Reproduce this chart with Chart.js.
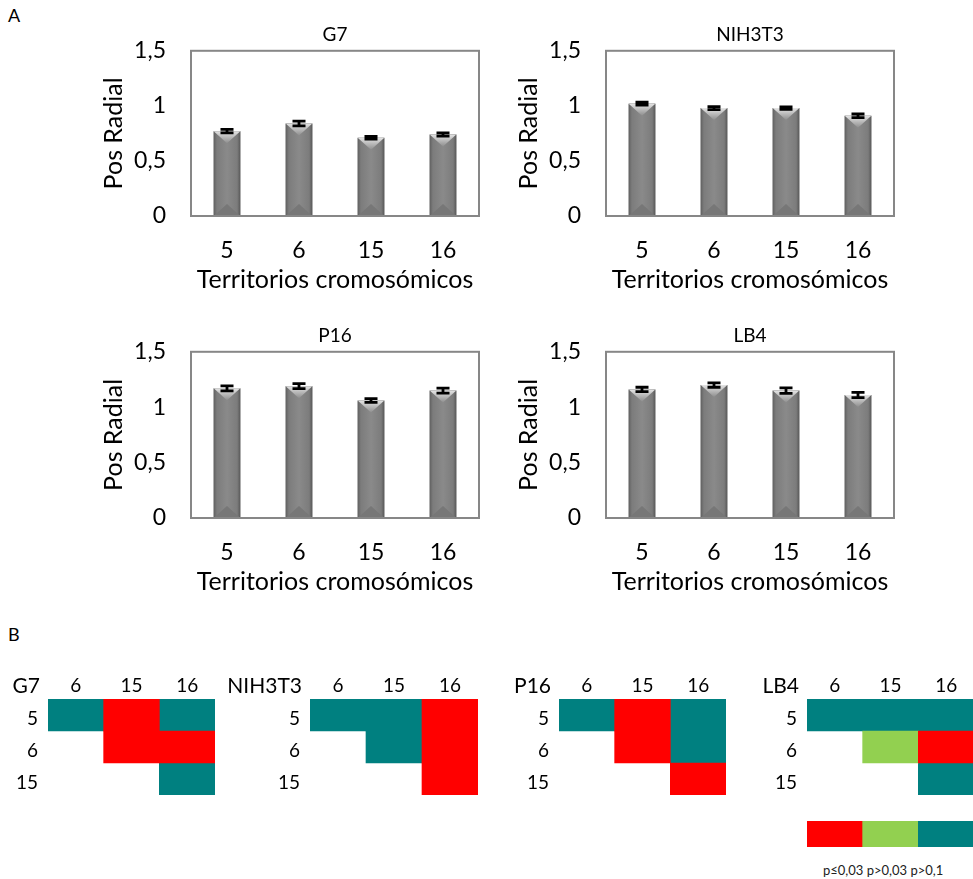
<!DOCTYPE html>
<html>
<head>
<meta charset="utf-8">
<script src="https://cdn.jsdelivr.net/npm/chart.js"></script>
<style>
    body { margin: 0; background: #fff; font-family: Lato, sans-serif; }
    #page { position: relative; width: 973px; height: 879px; overflow: hidden; }
    canvas, .txt { position: absolute; }
    .txt { color: #000; white-space: nowrap; }
</style>
</head>
<body>
<div id="page">
    <div class="txt" style="left:8px;top:4px;font-size:18px">A</div>
    <div class="txt" style="left:8px;top:623px;font-size:18px">B</div>

    <canvas id="barG7" width="400" height="280" style="left:90px;top:20px"></canvas>
    <canvas id="barNIH" width="400" height="280" style="left:505px;top:20px"></canvas>
    <canvas id="barP16" width="400" height="281" style="left:90px;top:321px"></canvas>
    <canvas id="barLB4" width="400" height="281" style="left:505px;top:321px"></canvas>

    <canvas id="pairG7" width="220" height="140" style="left:0px;top:660px"></canvas>
    <canvas id="pairNIH" width="262" height="140" style="left:221px;top:660px"></canvas>
    <canvas id="pairP16" width="241" height="140" style="left:490px;top:660px"></canvas>
    <canvas id="pairLB4" width="239" height="140" style="left:740px;top:660px"></canvas>

    <canvas id="pLegend" width="167" height="26" style="left:807px;top:821px"></canvas>
    <div class="txt" id="pLegendText" style="left:823px;top:862px;font-size:13px;color:#222"></div>
</div>

<script>
    const family = 'Lato';

    // panel A: mean radial position per chromosome territory
    const chromosomes = ['5', '6', '15', '16'];
    const yTickLabels = ['0', '0,5', '1', '1,5'];
    const g7Means = [0.77, 0.84, 0.71, 0.74];
    const g7Errors = [0.016, 0.022, 0.012, 0.014];
    const nihMeans = [1.02, 0.98, 0.98, 0.91];
    const nihErrors = [0.013, 0.014, 0.011, 0.016];
    const p16Means = [1.17, 1.19, 1.06, 1.15];
    const p16Errors = [0.023, 0.022, 0.017, 0.023];
    const lb4Means = [1.16, 1.20, 1.15, 1.11];
    const lb4Errors = [0.02, 0.02, 0.025, 0.023];

    // panel B: pairwise comparisons, 0 = p≤0,03, 1 = p>0,03, 2 = p>0,1
    const pairCols = ['6', '15', '16'];
    const pairRows = ['5', '6', '15'];
    const g7Pairs = [[2, 0, 2], [null, 0, 0], [null, null, 2]];
    const nihPairs = [[2, 2, 0], [null, 2, 0], [null, null, 0]];
    const p16Pairs = [[2, 0, 2], [null, 0, 2], [null, null, 0]];
    const lb4Pairs = [[2, 2, 2], [null, 1, 0], [null, null, 2]];
    const pLabels = ['p≤0,03', 'p>0,03', 'p>0,1'];
    const pColors = ['#ff0000', '#92d050', '#008080'];

    // shading, bevels, error bars and the frame around the plot
    const barDecor = {
        id: 'barDecor',
        afterDatasetsDraw(chart) {
            const ctx = chart.ctx;
            const ds = chart.data.datasets[0];
            const yScale = chart.scales.y;
            ctx.save();
            chart.getDatasetMeta(0).data.forEach((bar, i) => {
                const { x, y, base, width } = bar.getProps(['x', 'y', 'base', 'width'], true);
                const l = x - width / 2, r = x + width / 2;
                const g = ctx.createLinearGradient(l, 0, r, 0);
                g.addColorStop(0, '#606060');
                g.addColorStop(0.12, '#7c7c7c');
                g.addColorStop(0.5, '#8a8a8a');
                g.addColorStop(0.88, '#7c7c7c');
                g.addColorStop(1, '#585858');
                ctx.fillStyle = g;
                ctx.fillRect(l, y, width, base - y);

                const bev = 12;
                const tg = ctx.createLinearGradient(0, y, 0, y + bev);
                tg.addColorStop(0, '#e4e4e4');
                tg.addColorStop(1, '#8e8e8e');
                ctx.beginPath();
                ctx.moveTo(l, y); ctx.lineTo(r, y); ctx.lineTo(x, y + bev);
                ctx.closePath();
                ctx.fillStyle = tg;
                ctx.fill();

                ctx.beginPath();
                ctx.moveTo(l, base); ctx.lineTo(r, base); ctx.lineTo(x, base - bev);
                ctx.closePath();
                ctx.fillStyle = '#777';
                ctx.fill();

                const hi = yScale.getPixelForValue(ds.data[i] + ds.errors[i]);
                const lo = yScale.getPixelForValue(ds.data[i] - ds.errors[i]);
                ctx.strokeStyle = '#000';
                ctx.lineWidth = 2.8;
                ctx.beginPath();
                ctx.moveTo(x, hi); ctx.lineTo(x, lo);
                ctx.moveTo(x - 6.5, hi); ctx.lineTo(x + 6.5, hi);
                ctx.moveTo(x - 6.5, lo); ctx.lineTo(x + 6.5, lo);
                ctx.stroke();
            });
            const a = chart.chartArea;
            ctx.strokeStyle = '#878787';
            ctx.lineWidth = 2;
            ctx.strokeRect(a.left, a.top, a.right - a.left, a.bottom - a.top);
            ctx.restore();
        }
    };

    function barChart(id, title, means, errors) {
        new Chart(document.getElementById(id), {
            type: 'bar',
            data: {
                labels: chromosomes,
                datasets: [{
                    data: means,
                    errors: errors,
                    backgroundColor: '#808080',
                    barPercentage: 0.37,
                    categoryPercentage: 1
                }]
            },
            options: {
                responsive: false,
                animation: false,
                layout: { padding: { right: 11 } },
                plugins: {
                    legend: { display: false },
                    tooltip: { enabled: false },
                    title: {
                        display: true,
                        fullSize: false,
                        text: title,
                        color: '#000',
                        font: { family: family, size: 19, weight: 'normal' },
                        padding: { top: 3, bottom: 5 }
                    }
                },
                scales: {
                    x: {
                        grid: { display: false, drawTicks: false },
                        border: { display: false },
                        ticks: { color: '#000', font: { family: family, size: 23 }, padding: 21 },
                        title: {
                            display: true,
                            text: 'Territorios cromosómicos',
                            color: '#000',
                            font: { family: family, size: 25 },
                            padding: { top: 0, bottom: 5 }
                        },
                        afterFit: (s) => { s.height = 84; }
                    },
                    y: {
                        min: 0,
                        max: 1.5,
                        grid: { display: false, drawTicks: false },
                        border: { display: false },
                        ticks: {
                            stepSize: 0.5,
                            color: '#000',
                            font: { family: family, size: 23 },
                            padding: 25,
                            callback: (v, i) => yTickLabels[i]
                        },
                        title: {
                            display: true,
                            text: 'Pos Radial',
                            color: '#000',
                            font: { family: family, size: 25 },
                            padding: { top: 9, bottom: 0 }
                        },
                        afterFit: (s) => { s.width = 101; s.paddingTop = 0; s.paddingBottom = 0; }
                    }
                }
            },
            plugins: [barDecor]
        });
    }

    barChart('barG7', 'G7', g7Means, g7Errors);
    barChart('barNIH', 'NIH3T3', nihMeans, nihErrors);
    barChart('barP16', 'P16', p16Means, p16Errors);
    barChart('barLB4', 'LB4', lb4Means, lb4Errors);

    // cell-line name written left of the column headers
    const pairTitle = {
        id: 'pairTitle',
        afterDraw(chart) {
            const ctx = chart.ctx;
            ctx.save();
            ctx.font = '21px ' + family;
            ctx.fillStyle = '#000';
            ctx.textAlign = 'right';
            ctx.textBaseline = 'middle';
            ctx.fillText(chart.options.pairName, chart.chartArea.left - 8, chart.chartArea.top - 13);
            ctx.restore();
        }
    };

    function pairChart(id, name, pairs, yWidth) {
        const datasets = pColors.map((c) => ({
            data: [],
            backgroundColor: c,
            borderWidth: 0,
            barPercentage: 1,
            categoryPercentage: 1,
            grouped: false
        }));
        pairs.forEach((row, r) => row.forEach((v, c) => {
            if (v !== null) datasets[v].data.push({ x: pairCols[c], y: [r, r + 1] });
        }));
        new Chart(document.getElementById(id), {
            type: 'bar',
            data: { labels: pairCols, datasets: datasets },
            options: {
                pairName: name,
                responsive: false,
                animation: false,
                layout: { padding: { right: 5, bottom: 5 } },
                plugins: { legend: { display: false }, tooltip: { enabled: false } },
                scales: {
                    x: {
                        position: 'top',
                        grid: { display: false, drawTicks: false },
                        border: { display: false },
                        ticks: { color: '#000', font: { family: family, size: 19 }, padding: 2 },
                        afterFit: (s) => { s.height = 39; }
                    },
                    y: {
                        min: 0,
                        max: 3,
                        reverse: true,
                        grid: { display: false, drawTicks: false },
                        border: { display: false },
                        // labels sit a little below the middle of each row
                        afterBuildTicks: (s) => { s.ticks = pairRows.map((_, i) => ({ value: i + 0.62 })); },
                        ticks: {
                            color: '#000',
                            font: { family: family, size: 19 },
                            padding: 10,
                            callback: (v, i) => pairRows[i]
                        },
                        afterFit: (s) => { s.width = yWidth; s.paddingTop = 0; s.paddingBottom = 0; }
                    }
                }
            },
            plugins: [pairTitle]
        });
    }

    pairChart('pairG7', 'G7', g7Pairs, 48);
    pairChart('pairNIH', 'NIH3T3', nihPairs, 89);
    pairChart('pairP16', 'P16', p16Pairs, 69);
    pairChart('pairLB4', 'LB4', lb4Pairs, 67);

    new Chart(document.getElementById('pLegend'), {
        type: 'bar',
        data: {
            labels: pLabels,
            datasets: [{
                data: pLabels.map(() => [0, 1]),
                backgroundColor: pColors,
                borderWidth: 0,
                barPercentage: 1,
                categoryPercentage: 1
            }]
        },
        options: {
            responsive: false,
            animation: false,
            plugins: { legend: { display: false }, tooltip: { enabled: false } },
            scales: {
                x: { display: false },
                y: { display: false, min: 0, max: 1 }
            }
        }
    });
    document.getElementById('pLegendText').textContent = pLabels.join(' ');
</script>
</body>
</html>
